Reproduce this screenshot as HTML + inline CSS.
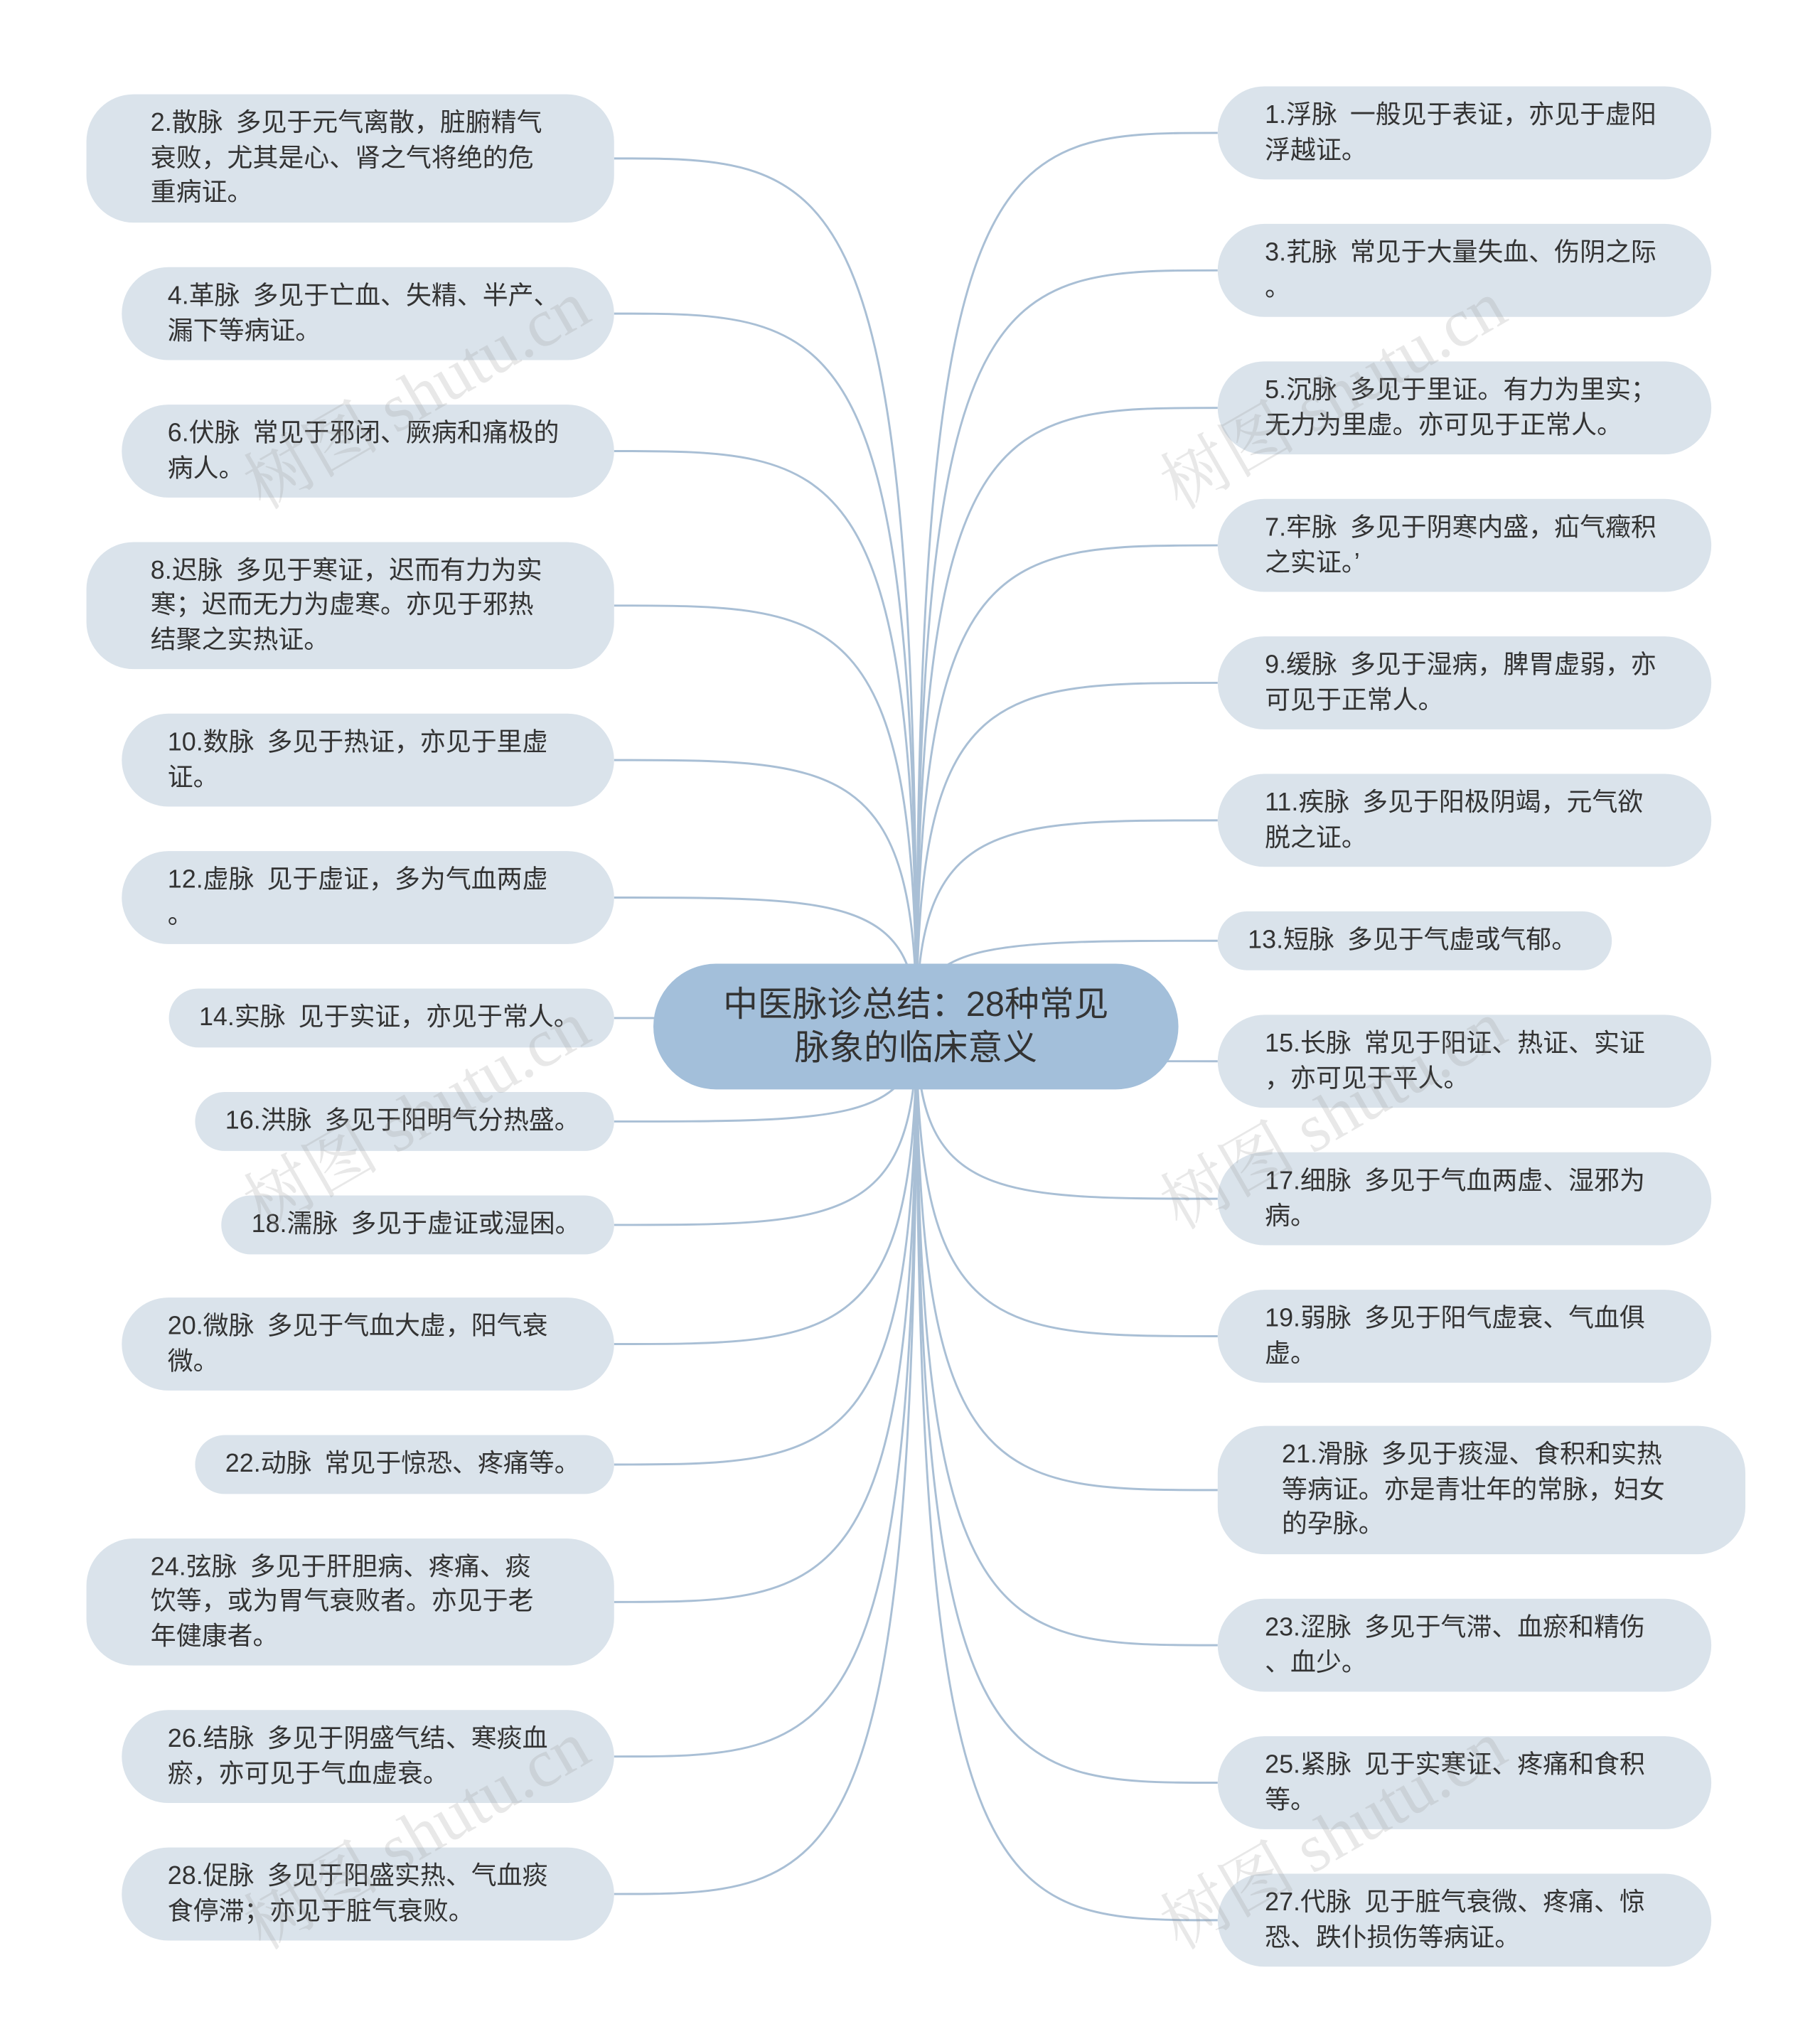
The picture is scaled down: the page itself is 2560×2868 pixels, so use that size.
<!DOCTYPE html>
<html><head><meta charset="utf-8">
<style>
html,body{margin:0;padding:0;background:#fff;}
body{width:2560px;height:2868px;overflow:hidden;position:relative;}
#s{position:absolute;left:0;top:0;width:1390px;height:1557px;transform:scale(1.84173);transform-origin:0 0;
font-family:"Liberation Sans","Noto Sans CJK SC",sans-serif;color:#333;}
.n{position:absolute;background:#dae3eb;border-radius:36px;box-sizing:border-box;font-size:19.5px;line-height:26.5px;white-space:nowrap;display:flex;align-items:center;}
.c{position:absolute;left:499px;top:736px;width:401px;height:96px;background:#a3bfda;border-radius:48px;font-size:26.5px;line-height:33px;text-align:center;display:flex;align-items:center;justify-content:center;}
svg{position:absolute;left:0;top:0;}
.w{position:absolute;font-size:52px;color:rgba(150,150,150,0.22);transform:rotate(-30deg);white-space:nowrap;font-family:"Liberation Serif","Noto Serif CJK SC",serif;}
</style></head><body><div id="s">
<svg width="1390" height="1557" fill="none" stroke="#a9bfd5" stroke-width="1.6">
<g id="g"></g>
</svg>
<div class="c">中医脉诊总结：28种常见<br>脉象的临床意义</div>
<div id="nodes"></div>
<div class="w" style="left:170px;top:260px">树图 shutu.cn</div>
<div class="w" style="left:870px;top:260px">树图 shutu.cn</div>
<div class="w" style="left:170px;top:810px">树图 shutu.cn</div>
<div class="w" style="left:870px;top:810px">树图 shutu.cn</div>
<div class="w" style="left:170px;top:1360px">树图 shutu.cn</div>
<div class="w" style="left:870px;top:1360px">树图 shutu.cn</div>
</div>
<script>
var L=[[66,72,170,49,"2.散脉&ensp;多见于元气离散，脏腑精气<br>衰败，尤其是心、肾之气将绝的危<br>重病证。"],
[93,204,275,35,"4.革脉&ensp;多见于亡血、失精、半产、<br>漏下等病证。"],
[93,309,380,35,"6.伏脉&ensp;常见于邪闭、厥病和痛极的<br>病人。"],
[66,414,511,49,"8.迟脉&ensp;多见于寒证，迟而有力为实<br>寒；迟而无力为虚寒。亦见于邪热<br>结聚之实热证。"],
[93,545,616,35,"10.数脉&ensp;多见于热证，亦见于里虚<br>证。"],
[93,650,721,35,"12.虚脉&ensp;见于虚证，多为气血两虚<br>。"],
[129,755,800,23,"14.实脉&ensp;见于实证，亦见于常人。"],
[149,834,879,23,"16.洪脉&ensp;多见于阳明气分热盛。"],
[169,913,958,23,"18.濡脉&ensp;多见于虚证或湿困。"],
[93,991,1062,35,"20.微脉&ensp;多见于气血大虚，阳气衰<br>微。"],
[149,1096,1141,23,"22.动脉&ensp;常见于惊恐、疼痛等。"],
[66,1175,1272,49,"24.弦脉&ensp;多见于肝胆病、疼痛、痰<br>饮等，或为胃气衰败者。亦见于老<br>年健康者。"],
[93,1306,1377,35,"26.结脉&ensp;多见于阴盛气结、寒痰血<br>瘀，亦可见于气血虚衰。"],
[93,1411,1482,35,"28.促脉&ensp;多见于阳盛实热、气血痰<br>食停滞；亦见于脏气衰败。"]];
var R=[[1307,66,137,36,"1.浮脉&ensp;一般见于表证，亦见于虚阳<br>浮越证。"],
[1307,171,242,36,"3.芤脉&ensp;常见于大量失血、伤阴之际<br>。"],
[1307,276,347,36,"5.沉脉&ensp;多见于里证。有力为里实；<br>无力为里虚。亦可见于正常人。"],
[1307,381,452,36,"7.牢脉&ensp;多见于阴寒内盛，疝气癥积<br>之实证。’"],
[1307,486,557,36,"9.缓脉&ensp;多见于湿病，脾胃虚弱，亦<br>可见于正常人。"],
[1307,591,662,36,"11.疾脉&ensp;多见于阳极阴竭，元气欲<br>脱之证。"],
[1231,696,741,23,"13.短脉&ensp;多见于气虚或气郁。"],
[1307,775,846,36,"15.长脉&ensp;常见于阳证、热证、实证<br>，亦可见于平人。"],
[1307,880,951,36,"17.细脉&ensp;多见于气血两虚、湿邪为<br>病。"],
[1307,985,1056,36,"19.弱脉&ensp;多见于阳气虚衰、气血俱<br>虚。"],
[1333,1089,1187,49,"21.滑脉&ensp;多见于痰湿、食积和实热<br>等病证。亦是青壮年的常脉，妇女<br>的孕脉。"],
[1307,1221,1292,36,"23.涩脉&ensp;多见于气滞、血瘀和精伤<br>、血少。"],
[1307,1326,1397,36,"25.紧脉&ensp;见于实寒证、疼痛和食积<br>等。"],
[1307,1431,1502,36,"27.代脉&ensp;见于脏气衰微、疼痛、惊<br>恐、跌仆损伤等病证。"]];
var h="",p="",cx=700,cy=784;
L.forEach(function(a){var x=a[0],w=469-x,t=a[1],hh=a[2]-t,m=(t+a[2])/2;
h+='<div class="n" style="left:'+x+'px;top:'+t+'px;width:'+w+'px;height:'+hh+'px;padding-left:'+a[3]+'px">'+a[4]+'</div>';
p+='<path d="M'+cx+' '+cy+' C'+cx+' '+(m)+' '+(cx-60)+' '+m+' 469 '+m+'"/>';});
R.forEach(function(a){var x=930,w=a[0]-x,t=a[1],hh=a[2]-t,m=(t+a[2])/2;
h+='<div class="n" style="left:'+x+'px;top:'+t+'px;width:'+w+'px;height:'+hh+'px;padding-left:'+a[3]+'px">'+a[4]+'</div>';
p+='<path d="M'+cx+' '+cy+' C'+cx+' '+(m)+' '+(cx+60)+' '+m+' 930 '+m+'"/>';});
document.getElementById("nodes").innerHTML=h;
document.getElementById("g").innerHTML=p;
</script>
</body></html>
